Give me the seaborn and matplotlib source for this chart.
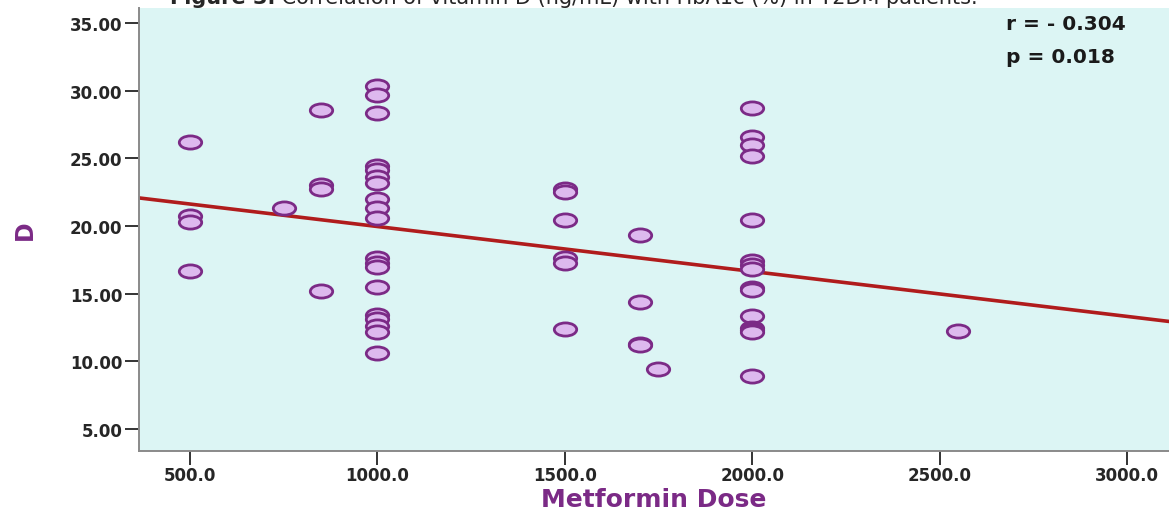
"""
Scatter of vitamin D against metformin dose with a fitted regression line.
"""

import pandas as pd
import matplotlib
matplotlib.use("Agg")
import matplotlib.pyplot as plt
from matplotlib.path import Path
from matplotlib.transforms import Affine2D
import seaborn as sns

# values
dose_500 = [500] * 4
vitd_500 = [26.2, 20.75, 20.3, 16.7]
dose_750 = [750]
vitd_750 = [21.3]
dose_850 = [850] * 4
vitd_850 = [28.6, 23.0, 22.7, 15.2]
dose_1000 = [1000] * 19
vitd_1000 = [30.37, 29.7, 28.35, 24.45, 24.1, 23.6, 23.2, 22.0, 21.3, 20.6,
             17.6, 17.3, 17.0, 15.5, 13.4, 13.1, 12.6, 12.15, 10.6]
dose_1500 = [1500] * 6
vitd_1500 = [22.7, 22.5, 20.45, 17.65, 17.3, 12.4]
dose_1700 = [1700] * 4
vitd_1700 = [19.3, 14.4, 11.3, 11.2]
dose_1750 = [1750]
vitd_1750 = [9.4]
dose_2000 = [2000] * 15
vitd_2000 = [28.7, 26.6, 25.95, 25.15, 20.45, 17.4, 17.1, 16.8, 15.45, 15.3,
             13.35, 12.45, 12.3, 12.15, 8.95]
dose_2550 = [2550]
vitd_2550 = [12.25]

x_ticks = [500, 1000, 1500, 2000, 2500, 3000]
y_ticks = [5, 10, 15, 20, 25, 30, 35]
r_text = "r = - 0.304"
p_text = "p = 0.018"
title_bold = "Figure 3."
title_rest = " Correlation of vitamin D (ng/mL) with HbA1c (%) in T2DM patients."

df = pd.DataFrame({
    "Metformin Dose": dose_500 + dose_750 + dose_850 + dose_1000 + dose_1500
    + dose_1700 + dose_1750 + dose_2000 + dose_2550,
    "D": vitd_500 + vitd_750 + vitd_850 + vitd_1000 + vitd_1500
    + vitd_1700 + vitd_1750 + vitd_2000 + vitd_2550,
})

sns.set_style("ticks")
plt.rcParams['font.family'] = ['DejaVu Sans']

purple = "#7B2A86"
fill = "#DDB9EE"
bg = "#DCF5F4"
red = "#B01C1C"

# SPSS style squashed circle
ellipse = Path.unit_circle().transformed(Affine2D().scale(1.7, 1.0))

fig = plt.figure(figsize=(11.69, 5.10), dpi=100)
ax = fig.add_axes([139 / 1169, 58 / 510, 1 - 139 / 1169, 443 / 510])
ax.set_facecolor(bg)
ax.set_xlim(364, 3112)
ax.set_ylim(3.38, 36.1)

sns.regplot(data=df, x="Metformin Dose", y="D", ax=ax, scatter=False,
            ci=None, truncate=False, line_kws=dict(color=red, lw=2.6))
sns.scatterplot(data=df, x="Metformin Dose", y="D", ax=ax, marker=ellipse,
                s=260, color=fill, edgecolor=purple, linewidth=2.0, zorder=3)

ax.set_xticks(x_ticks)
ax.set_xticklabels([f"{v:.1f}" for v in x_ticks], fontsize=12, fontweight="bold")
ax.set_yticks(y_ticks)
ax.set_yticklabels([f"{v:.2f}" for v in y_ticks], fontsize=12, fontweight="bold")
ax.tick_params(axis="both", length=10, width=1.4, color="#333333")
ax.tick_params(axis="x", pad=1)
ax.tick_params(axis="y", pad=2)

for side in ["top", "right"]:
    ax.spines[side].set_visible(False)
for side in ["left", "bottom"]:
    ax.spines[side].set_color("#8a8a8a")
    ax.spines[side].set_linewidth(1.4)

ax.set_xlabel("Metformin Dose", fontsize=18, fontweight="bold", color=purple)
ax.xaxis.label.set_va("baseline")
ax.xaxis.set_label_coords(0.5, -55 / 443)
ax.set_ylabel("D", fontsize=17, fontweight="bold", color=purple, labelpad=24)

ax.text(0.842, 0.966, r_text, transform=ax.transAxes, fontsize=14.5,
        fontweight="bold", color="#1a1a1a", va="center")
ax.text(0.842, 0.891, p_text, transform=ax.transAxes, fontsize=14.5,
        fontweight="bold", color="#1a1a1a", va="center")

# title sits partly above the picture, as in the cropped original
t1 = fig.text(170 / 1169, 1 - 4 / 510, title_bold, fontsize=15,
              fontweight="bold", va="baseline", ha="left")
ax.annotate(title_rest, xy=(1, 0), xycoords=t1, va="bottom", ha="left",
            fontsize=15, annotation_clip=False)

fig.savefig("out.png", dpi=100)
